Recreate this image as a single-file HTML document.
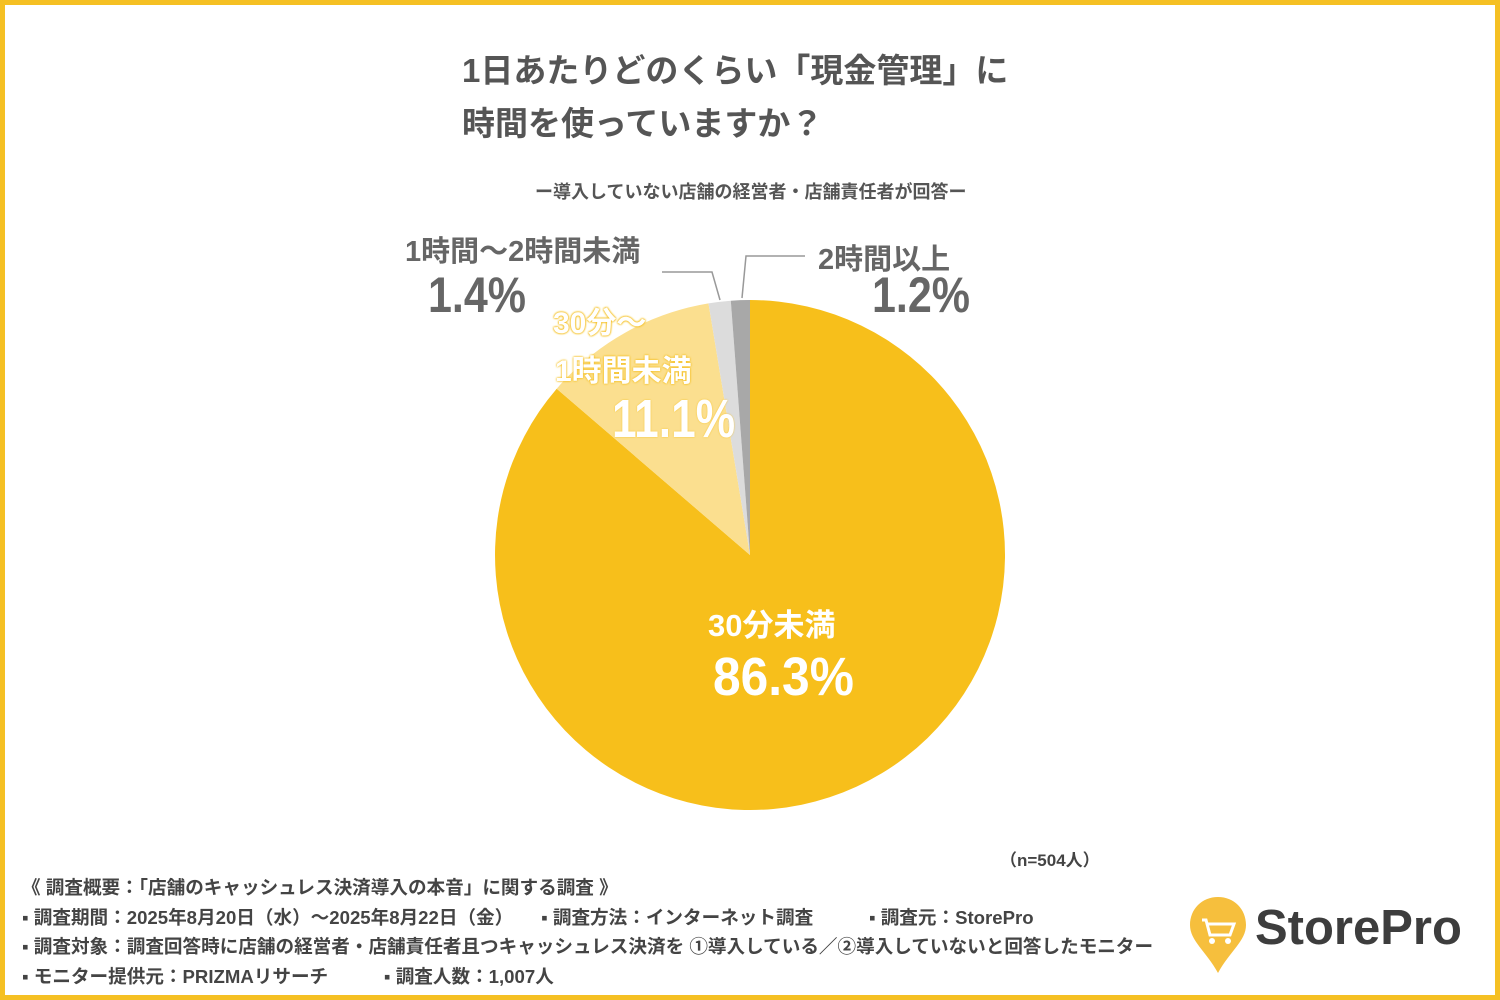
<!DOCTYPE html>
<html><head><meta charset="utf-8"><style>
body{margin:0;width:1500px;height:1000px;overflow:hidden;background:#fff;font-family:"Liberation Sans","Noto Sans CJK JP",sans-serif;}
.frame{position:absolute;left:0;top:0;width:1490px;height:990px;border:5px solid #f5c023;}
.t{position:absolute;white-space:nowrap;}
.c{transform-origin:0 0;}
</style></head><body>
<div class="frame"></div>
<div class="t" style="left:462px;top:44px;font-size:33px;font-weight:bold;color:#555;line-height:53px;">1日あたりどのくらい「現金管理」に<br>時間を使っていますか？</div>
<div class="t" style="left:535px;top:178px;font-size:18px;font-weight:bold;color:#555;">ー導入していない店舗の経営者・店舗責任者が回答ー</div>
<svg width="1500" height="1000" style="position:absolute;left:0;top:0">
<path d="M750,555 L750,300 A255,255 0 1,1 556.7,388.7 Z" fill="#f7bf1b"/>
<path d="M750,555 L556.7,388.7 A255,255 0 0,1 708.5,303.4 Z" fill="#fbdf8f"/>
<path d="M750,555 L708.5,303.4 A255,255 0 0,1 730.8,300.7 Z" fill="#dcdcdc"/>
<path d="M750,555 L730.8,300.7 A255,255 0 0,1 750,300 Z" fill="#a8a8a8"/>
<polyline points="720,300 712,272 662,272" fill="none" stroke="#999" stroke-width="1.5"/>
<polyline points="742,298 746,256 805,256" fill="none" stroke="#999" stroke-width="1.5"/>
</svg>
<div class="t" style="left:405px;top:228px;font-size:29px;font-weight:bold;color:#666;">1時間〜2時間未満</div>
<div class="t c" style="left:428px;top:266px;font-size:50px;font-weight:bold;color:#666;transform:scaleX(0.86);">1.4%</div>
<div class="t" style="left:818px;top:236px;font-size:29px;font-weight:bold;color:#666;">2時間以上</div>
<div class="t c" style="left:872px;top:266px;font-size:50px;font-weight:bold;color:#666;transform:scaleX(0.86);">1.2%</div>
<div class="t" style="left:553px;top:298px;font-size:30px;font-weight:bold;color:#fff;text-shadow:0 0 2px #f5c023,0 0 2px #f5c023,0 0 2px #f5c023;">30分〜</div>
<div class="t" style="left:555px;top:346px;font-size:30px;font-weight:bold;color:#fff;text-shadow:0 0 2px #f5c023,0 0 2px #f5c023;">1時間未満</div>
<div class="t c" style="left:612px;top:388px;font-size:54px;font-weight:bold;color:#fff;transform:scaleX(0.82);text-shadow:0 0 2px #f5c023;">11.1%</div>
<div class="t" style="left:708px;top:600px;font-size:31px;font-weight:bold;color:#fff;">30分未満</div>
<div class="t c" style="left:713px;top:646px;font-size:54px;font-weight:bold;color:#fff;transform:scaleX(0.92);">86.3%</div>
<div class="t" style="left:1000px;top:846px;font-size:17px;font-weight:bold;color:#444;">（n=504人）</div>
<div class="t" style="left:22px;top:873px;font-size:18.6px;font-weight:bold;color:#444;line-height:29.5px;">《 調査概要：「店舗のキャッシュレス決済導入の本音」に関する調査 》<br>▪ 調査期間：2025年8月20日（水）〜2025年8月22日（金）　　▪ 調査方法：インターネット調査　　　▪ 調査元：StorePro<br>▪ 調査対象：調査回答時に店舗の経営者・店舗責任者且つキャッシュレス決済を ①導入している／②導入していないと回答したモニター<br>▪ モニター提供元：PRIZMAリサーチ　　　▪ 調査人数：1,007人</div>
<svg width="70" height="80" style="position:absolute;left:1188px;top:895px" viewBox="0 0 70 80">
<path d="M30,2 C14,2 2,14 2,30 C2,46 18,56 30,78 C42,56 58,46 58,30 C58,14 46,2 30,2 Z" fill="#f6bf3d"/>
<path d="M14,25 L18,25 L22,40 L42,40 L46,29 L20,29" fill="none" stroke="#fff" stroke-width="3"/>
<circle cx="24" cy="46" r="3" fill="#fff"/><circle cx="40" cy="46" r="3" fill="#fff"/>
</svg>
<div class="t" style="left:1255px;top:900px;font-size:49px;font-weight:bold;color:#3d3d3d;">StorePro</div>
</body></html>
